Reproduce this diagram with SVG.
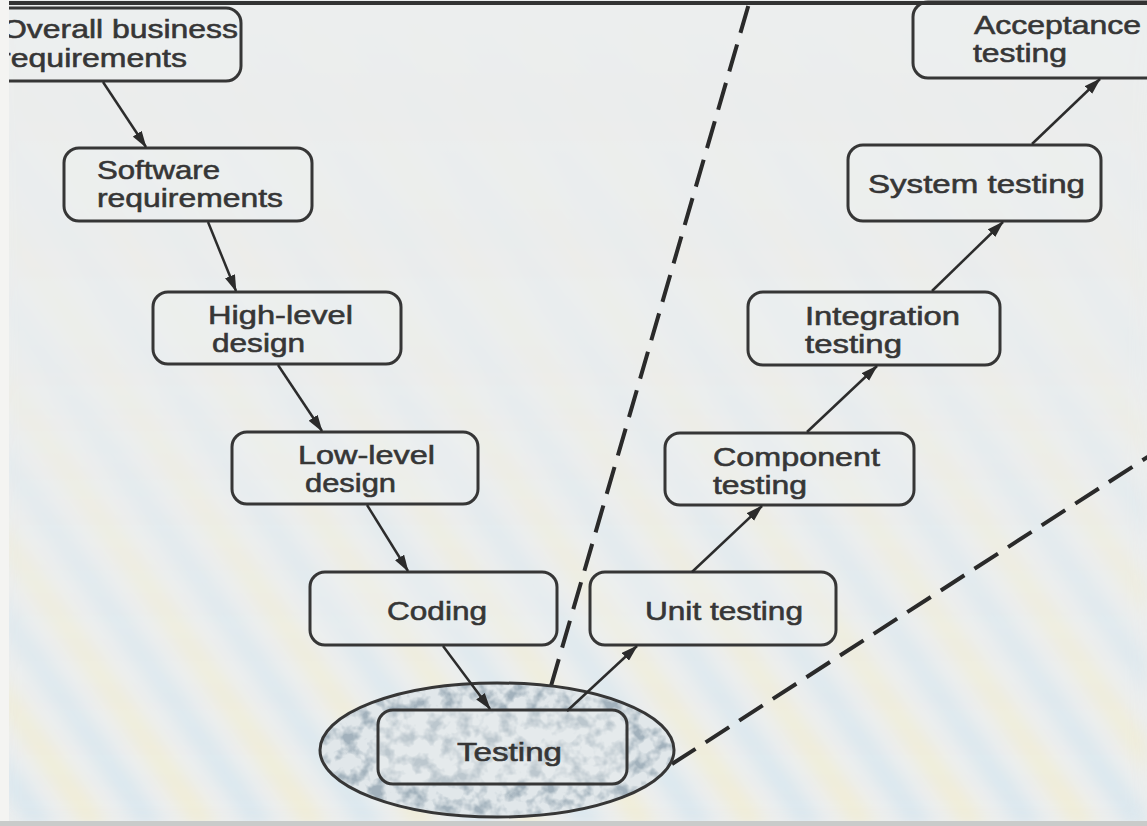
<svg xmlns="http://www.w3.org/2000/svg" width="1147" height="826" viewBox="0 0 1147 826">
  <defs>
    <style>
      .box { fill: #eef0f0; fill-opacity: 0.35; stroke: #363636; stroke-width: 3; }
      .lbl { font-family: "Liberation Sans", Arial, sans-serif; font-size: 25px; fill: #363636; stroke: #363636; stroke-width: 0.55; }
      .edge { stroke: #2c2c2c; stroke-width: 2.5; fill: none; marker-end: url(#arrow); }
      .dash { stroke: #2a2a2a; stroke-width: 4; fill: none; stroke-dasharray: 28 12; }
    </style>
    <marker id="arrow" viewBox="0 0 16 10" refX="15" refY="5" markerWidth="17" markerHeight="11" markerUnits="userSpaceOnUse" orient="auto">
      <path d="M0,0 L16,5 L0,10 z" fill="#2b2b2b"/>
    </marker>
    <!-- soft diagonal colour bands of the printed page -->
    <pattern id="bands" width="90" height="90" patternUnits="userSpaceOnUse" patternTransform="rotate(-35)">
      <rect width="90" height="90" fill="#eceeee"/>
      <rect x="0" y="0" width="22" height="90" fill="#cfe3ef"/>
      <rect x="45" y="0" width="20" height="90" fill="#f3ecc6"/>
    </pattern>
    <linearGradient id="fade" x1="0" y1="0" x2="0" y2="1">
      <stop offset="0" stop-color="#fff" stop-opacity="0"/>
      <stop offset="0.45" stop-color="#fff" stop-opacity="0.15"/>
      <stop offset="1" stop-color="#fff" stop-opacity="0.7"/>
    </linearGradient>
    <mask id="lowerHalf">
      <rect width="1147" height="826" fill="url(#fade)"/>
    </mask>
    <filter id="blurBands" x="-5%" y="-5%" width="110%" height="110%">
      <feGaussianBlur stdDeviation="9"/>
    </filter>
    <!-- grainy shading inside the testing ellipse -->
    <filter id="speckle" x="0" y="0" width="100%" height="100%">
      <feTurbulence type="fractalNoise" baseFrequency="0.07" numOctaves="3" seed="7" result="noise"/>
      <feColorMatrix in="noise" type="matrix" values="0 0 0 0 0.36  0 0 0 0 0.44  0 0 0 0 0.5  3.2 0 0 0 -1.35" result="tint"/>
      <feComposite in="tint" in2="SourceGraphic" operator="in"/>
    </filter>
  </defs>

  <!-- page -->
  <rect width="1147" height="826" fill="#eceeee"/>
  <rect width="1147" height="826" fill="url(#bands)" mask="url(#lowerHalf)" filter="url(#blurBands)"/>

  <!-- dashed boundaries -->
  <g id="boundaries">
    <line class="dash" x1="551" y1="686" x2="750" y2="0"/>
    <line class="dash" x1="672" y1="764" x2="1160" y2="449"/>
  </g>

  <g id="node-testing">
    <ellipse cx="497" cy="750" rx="177" ry="67" fill="#e1e7ea"/>
    <ellipse cx="497" cy="750" rx="177" ry="67" fill="#fff" filter="url(#speckle)"/>
    <ellipse cx="497" cy="750" rx="177" ry="67" fill="none" stroke="#363636" stroke-width="3"/>
    <rect class="box" x="378" y="710" width="249" height="74" rx="15"/>
    <text class="lbl" x="457" y="761" textLength="105" lengthAdjust="spacingAndGlyphs">Testing</text>
  </g>

  <g id="node-overall">
    <rect class="box" x="-12" y="8" width="253" height="73" rx="15"/>
    <text class="lbl" x="2" y="38" textLength="236" lengthAdjust="spacingAndGlyphs">Overall business</text>
    <text class="lbl" x="0" y="67" textLength="187" lengthAdjust="spacingAndGlyphs">requirements</text>
  </g>

  <g id="node-software">
    <rect class="box" x="64" y="148" width="248" height="73" rx="15"/>
    <text class="lbl" x="97" y="179" textLength="123" lengthAdjust="spacingAndGlyphs">Software</text>
    <text class="lbl" x="97" y="207" textLength="186" lengthAdjust="spacingAndGlyphs">requirements</text>
  </g>

  <g id="node-high-level">
    <rect class="box" x="153" y="292" width="248" height="72" rx="15"/>
    <text class="lbl" x="208" y="324" textLength="145" lengthAdjust="spacingAndGlyphs">High-level</text>
    <text class="lbl" x="212" y="352" textLength="93" lengthAdjust="spacingAndGlyphs">design</text>
  </g>

  <g id="node-low-level">
    <rect class="box" x="232" y="432" width="246" height="72" rx="15"/>
    <text class="lbl" x="298" y="464" textLength="137" lengthAdjust="spacingAndGlyphs">Low-level</text>
    <text class="lbl" x="305" y="492" textLength="91" lengthAdjust="spacingAndGlyphs">design</text>
  </g>

  <g id="node-coding">
    <rect class="box" x="310" y="572" width="247" height="73" rx="15"/>
    <text class="lbl" x="387" y="620" textLength="100" lengthAdjust="spacingAndGlyphs">Coding</text>
  </g>

  <g id="node-unit">
    <rect class="box" x="590" y="572" width="246" height="73" rx="15"/>
    <text class="lbl" x="645" y="620" textLength="158" lengthAdjust="spacingAndGlyphs">Unit testing</text>
  </g>

  <g id="node-component">
    <rect class="box" x="665" y="433" width="249" height="72" rx="15"/>
    <text class="lbl" x="713" y="466" textLength="167" lengthAdjust="spacingAndGlyphs">Component</text>
    <text class="lbl" x="713" y="494" textLength="94" lengthAdjust="spacingAndGlyphs">testing</text>
  </g>

  <g id="node-integration">
    <rect class="box" x="748" y="292" width="252" height="73" rx="15"/>
    <text class="lbl" x="805" y="325" textLength="155" lengthAdjust="spacingAndGlyphs">Integration</text>
    <text class="lbl" x="805" y="353" textLength="97" lengthAdjust="spacingAndGlyphs">testing</text>
  </g>

  <g id="node-system">
    <rect class="box" x="848" y="145" width="253" height="76" rx="15"/>
    <text class="lbl" x="868" y="193" textLength="217" lengthAdjust="spacingAndGlyphs">System testing</text>
  </g>

  <g id="node-acceptance">
    <rect class="box" x="913" y="2" width="250" height="76" rx="15"/>
    <text class="lbl" x="974" y="34" textLength="167" lengthAdjust="spacingAndGlyphs">Acceptance</text>
    <text class="lbl" x="973" y="62" textLength="94" lengthAdjust="spacingAndGlyphs">testing</text>
  </g>

  <g id="connectors">
    <line class="edge" x1="103" y1="82" x2="146" y2="147"/>
    <line class="edge" x1="208" y1="222" x2="236" y2="291"/>
    <line class="edge" x1="278" y1="365" x2="322" y2="431"/>
    <line class="edge" x1="367" y1="505" x2="408" y2="571"/>
    <line class="edge" x1="443" y1="646" x2="490" y2="709"/>
    <line class="edge" x1="567" y1="711" x2="637" y2="646"/>
    <line class="edge" x1="692" y1="572" x2="762" y2="506"/>
    <line class="edge" x1="807" y1="432" x2="877" y2="366"/>
    <line class="edge" x1="932" y1="291" x2="1003" y2="222"/>
    <line class="edge" x1="1032" y1="144" x2="1100" y2="79"/>
  </g>

  <!-- page edges -->
  <line x1="0" y1="3" x2="1147" y2="3" stroke="#333" stroke-width="4"/>
  <rect x="0" y="0" width="9" height="826" fill="#f4f4f2"/>
  <rect x="0" y="821" width="1147" height="5" fill="#c9cbca"/>
</svg>
